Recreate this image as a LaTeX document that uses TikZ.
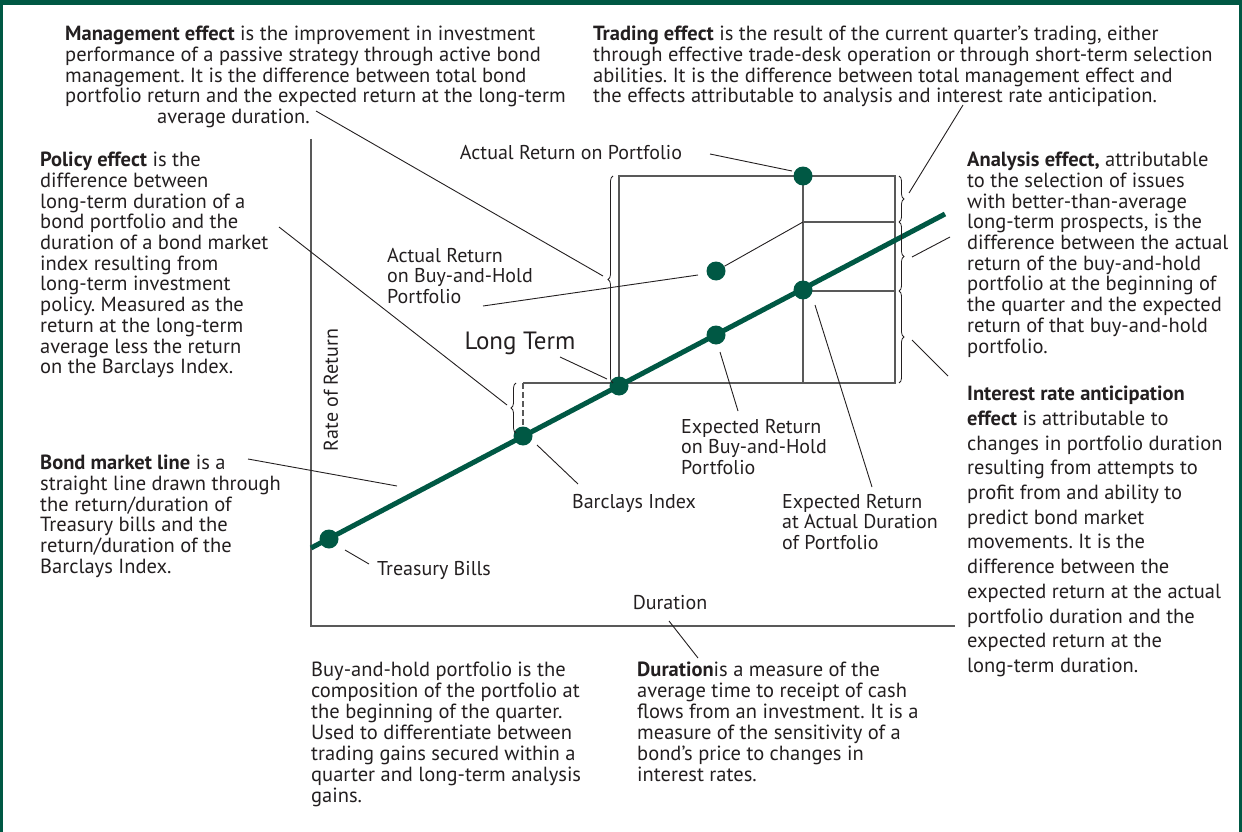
\documentclass[tikz,border=0pt]{standalone}
\usepackage{fontspec}
\setmainfont{PT Sans}
\usetikzlibrary{positioning, decorations.pathreplacing}
\definecolor{bondgreen}{RGB}{0,88,68}
\definecolor{ink}{RGB}{35,31,32}
\frenchspacing

\begin{document}
\begin{tikzpicture}[x=1pt, y=-1pt]
\tikzset{
  txt/.style={anchor=north west, inner sep=0pt, align=left, text=ink, font=\fontsize{20.5}{20.7}\selectfont},
  lbl/.style={inner sep=0pt, align=left, text=ink, font=\fontsize{20}{20.5}\selectfont},
  dot/.style={circle, fill=bondgreen, minimum size=19pt, inner sep=0pt},
  lead/.style={draw=ink, line width=0.9pt},
  frame/.style={draw=black!65, line width=1.3pt},
  brc/.style={draw=ink, line width=0.8pt, decorate, decoration={brace, amplitude=5pt}}
}
\useasboundingbox (0,0) rectangle (1242,832);
% border
\fill[bondgreen] (0,0) rectangle (1242,5);
\fill[bondgreen] (0,0) rectangle (3,832);
\fill[bondgreen] (1239,0) rectangle (1242,832);

% axes and box
\draw[frame] (311,139) -- (311,626) -- (955,626);
\draw[frame] (523,383) -- (895,383) -- (895,176) -- (619,176) -- (619,383);
\draw[frame] (803,176) -- (803,383);
\draw[frame] (803,222) -- (895,222);
\draw[frame] (803,291) -- (895,291);
\draw[frame, dash pattern=on 6pt off 3pt] (523,383) -- (523,436);

% bond market line
\draw[bondgreen, line width=5pt] (311,548) -- (945,214);
\node[dot] (tb) at (329,539) {};
\node[dot] (bi) at (523,436) {};
\node[dot] (lt) at (619,386) {};
\node[dot] (eb) at (716,335) {};
\node[dot] (ea) at (803,290) {};
\node[dot] (ab) at (716,271) {};
\node[dot] (ap) at (803,176) {};

% braces
\draw[brc] (613,383) -- (613,176);
\draw[brc] (516,433) -- (516,383);
\draw[brc] (899,176) -- (899,222);
\draw[brc] (899,222) -- (899,291);
\draw[brc] (899,291) -- (899,383);

% texts
\node[txt] (mgmt) at (65,26) {\textbf{Management effect} is the improvement in investment\\
performance of a passive strategy through active bond\\
management. It is the difference between total bond\\
portfolio return and the expected return at the long-term\\
\hspace*{92pt}average duration.};
\node[txt] (trade) at (593,26) {\textbf{Trading effect} is the result of the current quarter's trading, either\\
through effective trade-desk operation or through short-term selection\\
abilities. It is the difference between total management effect and\\
the effects attributable to analysis and interest rate anticipation.};
\node[txt] (policy) at (40,152) {\textbf{Policy effect} is the\\difference between\\long-term duration of a\\bond portfolio and the\\duration of a bond market\\index resulting from\\long-term investment\\policy. Measured as the\\return at the long-term\\average less the return\\on the Barclays Index.};
\node[txt] (bml) at (40,455) {\textbf{Bond market line} is a\\straight line drawn through\\the return/duration of\\Treasury bills and the\\return/duration of the\\Barclays Index.};
\node[txt] (anal) at (967,152) {\textbf{Analysis effect,} attributable\\to the selection of issues\\with better-than-average\\long-term prospects, is the\\difference between the actual\\return of the buy-and-hold\\portfolio at the beginning of\\the quarter and the expected\\return of that buy-and-hold\\portfolio.};
\node[txt, font=\fontsize{20.5}{24.7}\selectfont] (irate) at (967,386) {\textbf{Interest rate anticipation}\\\textbf{effect} is attributable to\\changes in portfolio duration\\resulting from attempts to\\profit from and ability to\\predict bond market\\movements. It is the\\difference between the\\expected return at the actual\\portfolio duration and the\\expected return at the\\long-term duration.};
\node[txt, font=\fontsize{20.5}{21}\selectfont] (bhp) at (311,662) {Buy-and-hold portfolio is the\\composition of the portfolio at\\the beginning of the quarter.\\Used to differentiate between\\trading gains secured within a\\quarter and long-term analysis\\gains.};
\node[txt, font=\fontsize{20.5}{21}\selectfont] (dur) at (637,662) {\textbf{Duration}is a measure of the\\average time to receipt of cash\\flows from an investment. It is a\\measure of the sensitivity of a\\bond's price to changes in\\interest rates.};

% chart labels
\node[lbl, rotate=90] (ror) at (331,390) {Rate of Return};
\node[lbl] (arpl) at (571,153) {Actual Return on Portfolio};
\node[lbl, anchor=north west] (abl) at (387,248) {Actual Return\\on Buy-and-Hold\\Portfolio};
\node[lbl, font=\fontsize{25}{26}\selectfont] (ltl) at (520,343) {Long Term};
\node[lbl, anchor=north west] (ebl) at (681,419) {Expected Return\\on Buy-and-Hold\\Portfolio};
\node[lbl] (bil) at (634,503) {Barclays Index};
\node[lbl, anchor=north west] (eal) at (782,494) {Expected Return\\at Actual Duration\\of Portfolio};
\node[lbl, anchor=west] (tbl) at (377,570) {Treasury Bills};
\node[lbl] (durl) at (670,603) {Duration};

% leaders
\draw[lead] (316,111) -- (603,276);
\draw[lead] (279,227) -- (507,405);
\draw[lead] (963,105) -- (909,193);
\draw[lead] (950,237) -- (912,257);
\draw[lead] (948,376) -- (912,340);
\draw[lead] (248,459) -- (397,486);
\draw[lead] (345,550) -- (369,564);
\draw[lead] (537,445) -- (578,484);
\draw[lead] (720,352) -- (738,411);
\draw[lead] (815,305) -- (872,487);
\draw[lead] (560,357) -- (607,379);
\draw[lead] (710,154) -- (792,171);
\draw[lead] (483,306) -- (698,275);
\draw[lead] (ab) -- (803,222);
\draw[lead] (669,621) -- (698,658);
\end{tikzpicture}
\end{document}
